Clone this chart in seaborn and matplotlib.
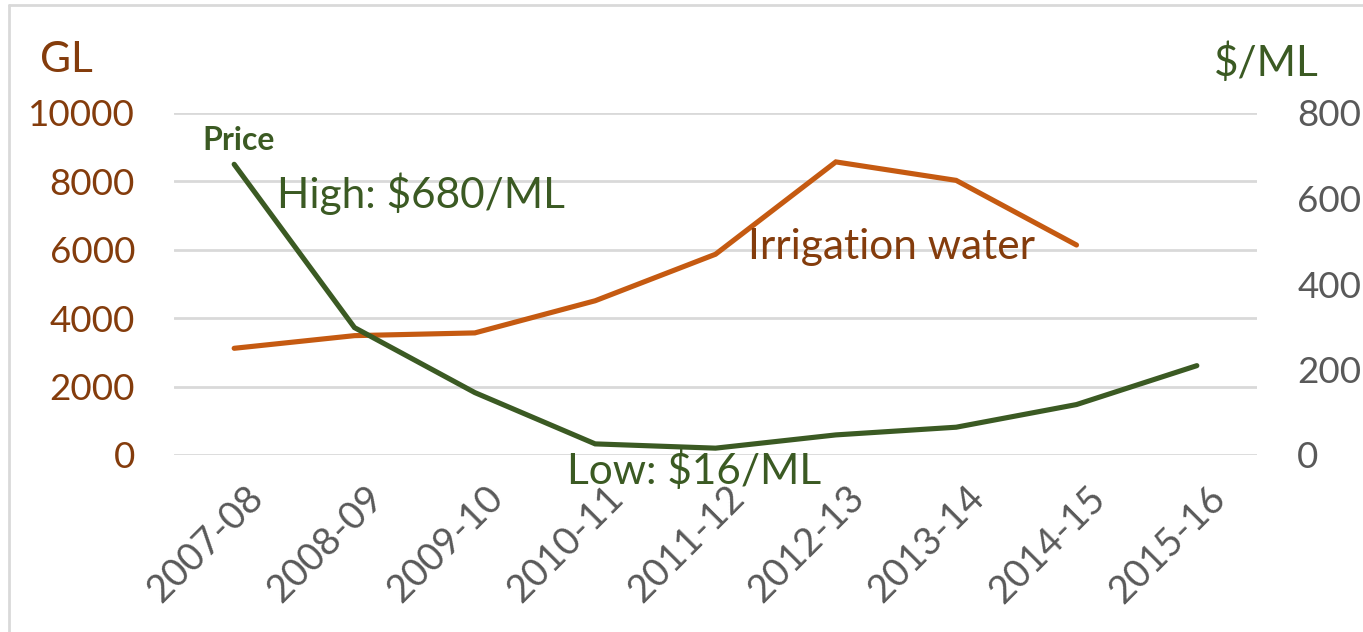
import numpy as np
import pandas as pd
import matplotlib
matplotlib.use("Agg")
import matplotlib.pyplot as plt
import matplotlib.transforms as mtransforms
import seaborn as sns

years = ["2007-08", "2008-09", "2009-10", "2010-11", "2011-12",
         "2012-13", "2013-14", "2014-15", "2015-16"]
irrigation_gl = [3120, 3490, 3570, 4510, 5870, 8570, 8030, 6140, np.nan]
price_per_ml = [680, 298, 146, 26, 16, 47, 65, 118, 209]
left_ticks = [0, 2000, 4000, 6000, 8000, 10000]
right_ticks = [0, 200, 400, 600, 800]

ORANGE = "#C55A11"
BROWN = "#843C0C"
GREEN = "#3B5A23"
GRAY = "#595959"
GRID = "#D9D9D9"

sns.set_theme(style="white")
plt.rcParams["font.family"] = ["Lato", "DejaVu Sans"]

df = pd.DataFrame({"year": years, "irr": irrigation_gl, "price": price_per_ml})

fig = plt.figure(figsize=(13.63, 6.32), dpi=100)
ax = fig.add_axes([174/1363, 1-455/632, (1257-174)/1363, (455-113)/632])
ax2 = ax.twinx()

sns.lineplot(data=df, x="year", y="irr", ax=ax, color=ORANGE, lw=3.7,
             solid_capstyle="round", solid_joinstyle="miter", zorder=3)
sns.lineplot(data=df, x="year", y="price", ax=ax2, color=GREEN, lw=3.7,
             solid_capstyle="round", solid_joinstyle="miter", zorder=3)

ax.set_xlim(-0.5, len(years) - 0.5)
ax.set_ylim(0, 10000)
ax2.set_ylim(0, 800)
ax.set_yticks(left_ticks)
ax2.set_yticks(right_ticks)
ax.set_yticklabels([str(t) for t in left_ticks], color=BROWN, fontsize=26.5)
ax2.set_yticklabels([str(t) for t in right_ticks], color=GRAY, fontsize=26.5)
ax.tick_params(axis="y", length=0, pad=28)
ax2.tick_params(axis="y", length=0, pad=29)
ax.set_xlabel("")
ax.set_ylabel("")
ax2.set_ylabel("")
ax.grid(axis="y", color=GRID, lw=2)
ax.grid(axis="x", visible=False)
ax2.grid(False)
for a in (ax, ax2):
    for s in a.spines.values():
        s.set_visible(False)

ax.tick_params(axis="x", length=0, pad=27)
ax.set_xticks(range(len(years)), years)
offset = mtransforms.ScaledTranslation(0.23, 0, fig.dpi_scale_trans)
for lab in ax.get_xticklabels():
    lab.set_rotation(45)
    lab.set_ha("right")
    lab.set_va("center")
    lab.set_rotation_mode("anchor")
    lab.set_fontsize(27.5)
    lab.set_color(GRAY)
    lab.set_transform(lab.get_transform() + offset)

# axis titles
fig.text(66/1363, 1-60/632, "GL", color=BROWN, fontsize=30.5, ha="center", va="center")
fig.text(1266/1363, 1-63/632, "$/ML", color=GREEN, fontsize=30.5, ha="center", va="center")

# annotations (data coords)
ax2.text(0.04, 735, "Price", color=GREEN, fontsize=23, fontweight="bold", ha="center", va="center")
ax2.text(0.36, 610, "High: $680/ML", color=GREEN, fontsize=30.5, ha="left", va="center")
ax.text(4.27, 6080, "Irrigation water", color=BROWN, fontsize=30.5, ha="left", va="center")
ax2.text(2.77, -38, "Low: $16/ML", color=GREEN, fontsize=30.5, ha="left", va="center")

# frame (top and left edges of the cropped chart border)
fig.add_artist(plt.Line2D([9/1363, 1], [1-5/632, 1-5/632], color=GRID, lw=2, transform=fig.transFigure))
fig.add_artist(plt.Line2D([9/1363, 9/1363], [0, 1-5/632], color=GRID, lw=2, transform=fig.transFigure))

fig.savefig("out.png", dpi=100, facecolor="white")
